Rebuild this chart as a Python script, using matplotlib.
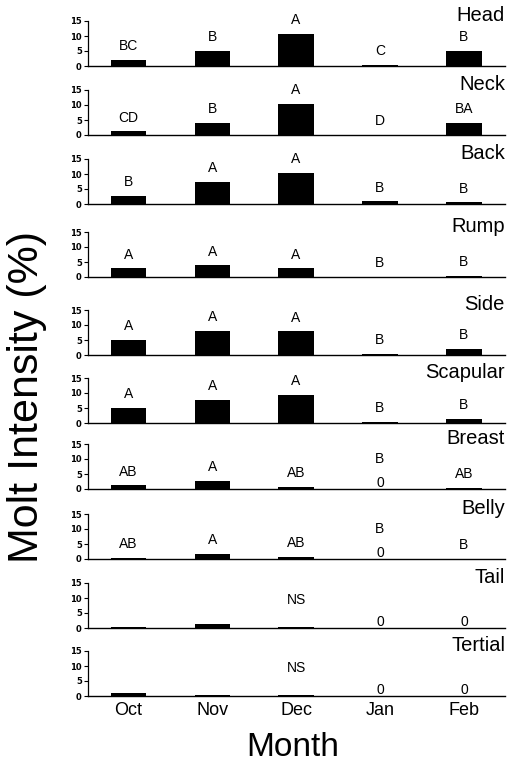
import matplotlib
matplotlib.use("Agg")
import matplotlib.pyplot as plt

plt.rcParams['font.family'] = ['Liberation Sans', 'DejaVu Sans']

# months on the x axis
months = ['Oct', 'Nov', 'Dec', 'Jan', 'Feb']
regions = ['Head', 'Neck', 'Back', 'Rump', 'Side', 'Scapular',
           'Breast', 'Belly', 'Tail', 'Tertial']

# molt intensity (%) per body region, Oct..Feb
head = [2.0, 5.0, 10.8, 0.3, 5.0]
neck = [1.2, 3.9, 10.4, 0.1, 4.1]
back = [2.6, 7.4, 10.4, 0.9, 0.55]
rump = [2.85, 3.9, 2.85, 0.15, 0.5]
side = [5.0, 8.15, 7.9, 0.4, 1.95]
scapular = [5.0, 7.8, 9.5, 0.3, 1.5]
breast = [1.2, 2.8, 0.7, 0, 0.4]
belly = [0.45, 1.8, 0.7, 0, 0.1]
tail = [0.3, 1.3, 0.2, 0, 0]
tertial = [1.0, 0.2, 0.2, 0, 0]

# significance letters
head_sig = ['BC', 'B', 'A', 'C', 'B']
neck_sig = ['CD', 'B', 'A', 'D', 'BA']
back_sig = ['B', 'A', 'A', 'B', 'B']
rump_sig = ['A', 'A', 'A', 'B', 'B']
side_sig = ['A', 'A', 'A', 'B', 'B']
scapular_sig = ['A', 'A', 'A', 'B', 'B']
breast_sig = ['AB', 'A', 'AB', 'B', 'AB']
belly_sig = ['AB', 'A', 'AB', 'B', 'B']
tail_sig = ['', '', '', '', '']
tertial_sig = ['', '', '', '', '']
not_significant = ['Tail', 'Tertial']

values = [head, neck, back, rump, side, scapular, breast, belly, tail, tertial]
letters = [head_sig, neck_sig, back_sig, rump_sig, side_sig, scapular_sig,
           breast_sig, belly_sig, tail_sig, tertial_sig]

W, H = 521, 766
fig = plt.figure(figsize=(W / 100, H / 100), dpi=100)

left_px, right_px = 88, 505
zero_px = [66, 135, 204, 277, 355, 423, 489, 559, 628, 696]
h_px = 45

x = list(range(len(months)))
for k, name in enumerate(regions):
    ax = fig.add_axes([left_px / W, 1 - zero_px[k] / H,
                       (right_px - left_px) / W, h_px / H])
    vals = values[k]
    ax.bar(x, vals, width=0.42, color='black')
    ax.set_xlim(-0.48, 4.49)
    ax.set_ylim(0, 15)
    ax.set_yticks([0, 5, 10, 15])
    ax.set_yticklabels(['0', '5', '10', '15'], fontsize=6, fontweight='bold',
                       family='DejaVu Sans')
    ax.tick_params(axis='y', length=3, width=0.8, pad=1.5)
    for s in ['top', 'right']:
        ax.spines[s].set_visible(False)
    ax.spines['left'].set_linewidth(0.9)
    ax.spines['bottom'].set_linewidth(1.0)
    ax.set_xticks(x)
    if k == len(regions) - 1:
        ax.set_xticklabels(months, fontsize=13)
        ax.tick_params(axis='x', length=0, pad=4)
    else:
        ax.set_xticklabels([])
        ax.tick_params(axis='x', length=0)

    ax.text(1.0, 1.0, name, transform=ax.transAxes, ha='right',
            va='baseline', fontsize=14.5)

    for i, v in enumerate(vals):
        lab = letters[k][i]
        if v == 0:
            ax.text(i, 2.0, '0', ha='center', va='center', fontsize=10,
                    clip_on=False)
            if lab:
                ax.text(i, 10.0, lab, ha='center', va='center', fontsize=10,
                        clip_on=False)
        elif lab:
            ax.text(i, v + 4.6, lab, ha='center', va='center', fontsize=10,
                    clip_on=False)
    if name in not_significant:
        ax.text(2, 9.5, 'NS', ha='center', va='center', fontsize=10)

fig.text(293 / W, 1 - 748 / H, 'Month', ha='center', va='center', fontsize=24)
fig.text(27 / W, 1 - 397 / H, 'Molt Intensity (%)', ha='center', va='center',
         rotation=90, fontsize=31)

fig.savefig('out.png', dpi=100)
